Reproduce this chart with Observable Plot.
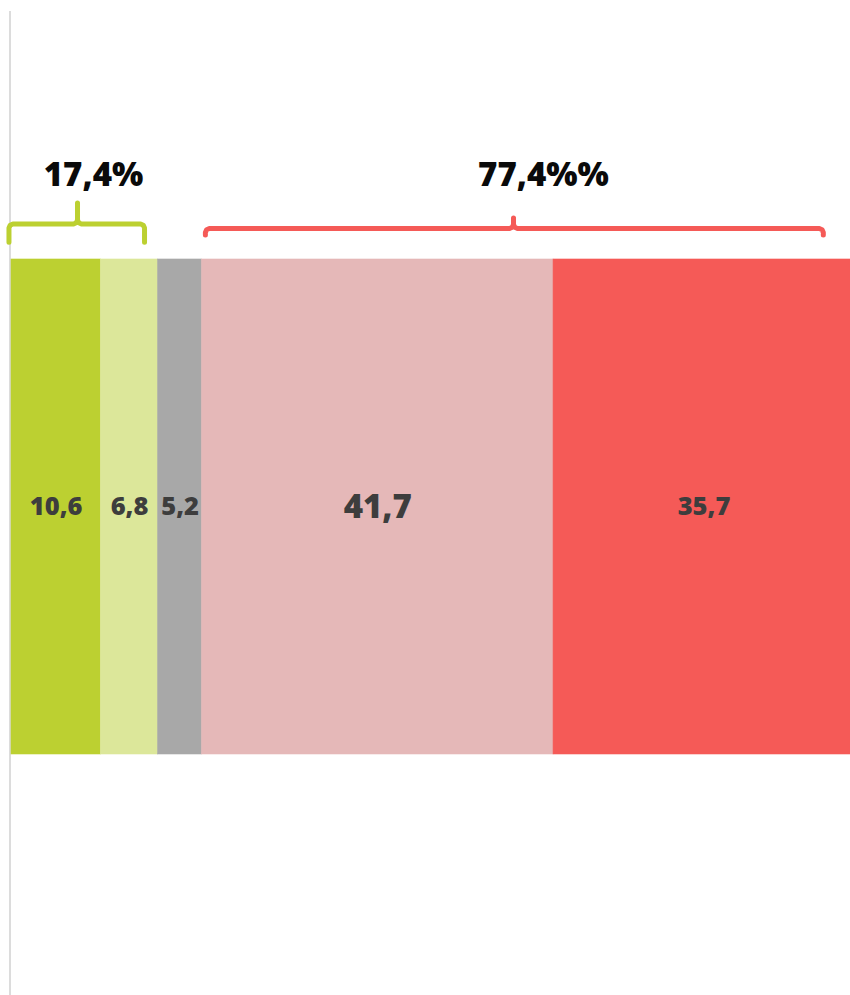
<!DOCTYPE html>
<html>
<head>
<meta charset="utf-8">
<script src="https://cdn.jsdelivr.net/npm/d3@7"></script>
<script src="https://cdn.jsdelivr.net/npm/@observablehq/plot@0.6"></script>
<style>
  html, body { margin: 0; padding: 0; background: #fff; }
  #chart svg { display: block; }
</style>
</head>
<body>
<div id="chart"></div>
<script>
// ---- data ----
const categories = ["c1", "c2", "c3", "c4", "c5"];
const values = [10.6, 6.8, 5.2, 41.7, 35.7];
const colors = ["#bcd031", "#dce79a", "#a8a8a8", "#e5b8b8", "#f55a57"];

const groupLabels = ["17,4%", "77,4%%"];
const groupColors = ["#bcd031", "#f55a57"];
// brace geometry in data units: [start, peak, end, labelX]
const groupSpans = [[-0.3, 7.83, 15.78, 9.73], [23.0, 59.55, 96.3, 63.1]];
// brace levels (y, in bar-height units): [endY, lineY, peakY]
const groupLevels = [[1.035, 1.0717, 1.114], [1.0495, 1.0626, 1.0838]];
const labelLevel = 1.1697;

// ---- derived tables ----
const ends = d3.cumsum(values);
const rows = categories.map((c, i) => ({
  cat: c, value: values[i], x1: ends[i] - values[i], x2: ends[i]
}));
const fmt = v => v.toFixed(1).replace(".", ",");
const maxV = d3.max(values);

function bracePath(span, lv) {
  const [a, p, b] = span;
  const [ye, yl, yp] = lv;
  const rx = 0.47, ry = 0.008;
  return [
    [a, ye], [a, yl - ry], [a + rx * 0.3, yl - ry * 0.3], [a + rx, yl],
    [p - rx, yl], [p - rx * 0.3, yl + ry * 0.3], [p, yl + ry], [p, yp],
    [p, yl + ry], [p + rx * 0.3, yl + ry * 0.3], [p + rx, yl],
    [b - rx, yl], [b - rx * 0.3, yl - ry * 0.3], [b, yl - ry], [b, ye]
  ].map(([x, y]) => ({x, y}));
}

const braceMarks = groupLabels.map((lab, i) =>
  Plot.line(bracePath(groupSpans[i], groupLevels[i]), {
    x: "x", y: "y", stroke: groupColors[i], strokeWidth: 5,
    strokeLinecap: "round", strokeLinejoin: "round"
  })
);
const groupRows = groupLabels.map((lab, i) => ({label: lab, x: groupSpans[i][3]}));

const chart = Plot.plot({
  width: 850,
  height: 995,
  marginTop: 11,
  marginBottom: 0,
  marginLeft: 11,
  marginRight: 0,
  style: {background: "#fff", overflow: "visible"},
  x: {domain: [0, 100], range: [11, 854], axis: null},
  y: {domain: [-0.4869, 1.501], axis: null},
  color: {domain: categories, range: colors},
  marks: [
    Plot.ruleX([0], {dx: -1.5, stroke: "#dcdcdc", strokeWidth: 2}),
    Plot.rect(rows, {x1: "x1", x2: "x2", y1: 0, y2: 1, fill: "cat", stroke: "cat", strokeWidth: 0.6}),
    Plot.text(rows, {
      x: d => (d.x1 + d.x2) / 2, y: 0.5, text: d => fmt(d.value),
      fill: "#3d3d3d", fontWeight: 800,
      fontSize: d => d.value === maxV ? 33 : 25.5,
      fontFamily: "'Open Sans', Lato, sans-serif",
      textAnchor: "middle", lineAnchor: "middle"
    }),
    ...braceMarks,
    Plot.text(groupRows, {
      x: "x", y: labelLevel, text: "label",
      fill: "#0a0a0a", fontWeight: 800, fontSize: 33,
      fontFamily: "'Open Sans', Lato, sans-serif",
      textAnchor: "middle", lineAnchor: "middle"
    })
  ]
});
document.getElementById("chart").appendChild(chart);
</script>
</body>
</html>
